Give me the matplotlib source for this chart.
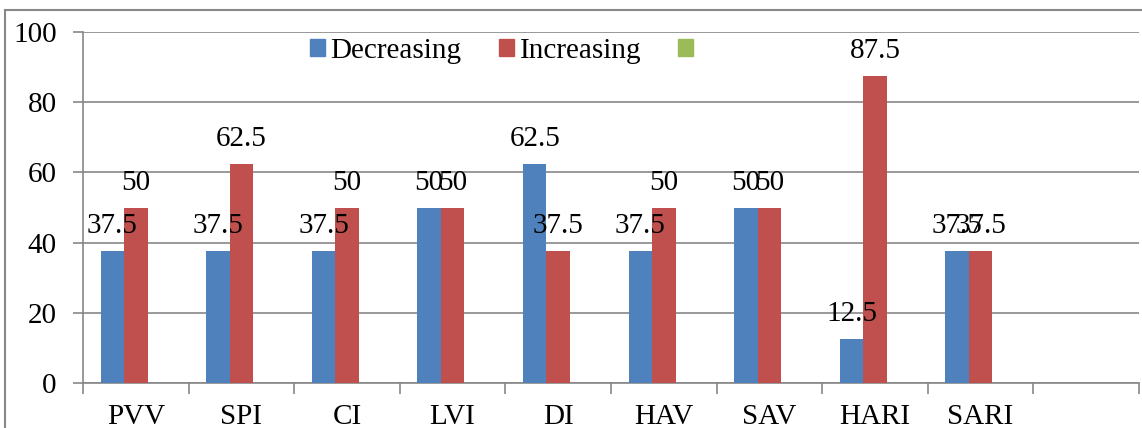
import numpy as np
import matplotlib
matplotlib.use("Agg")
import matplotlib.pyplot as plt
from matplotlib.patches import Rectangle, Patch

# --- data ---
categories = ["PVV", "SPI", "CI", "LVI", "DI", "HAV", "SAV", "HARI", "SARI", ""]
decreasing = [37.5, 37.5, 37.5, 50, 62.5, 37.5, 50, 12.5, 37.5, np.nan]
increasing = [50, 62.5, 50, 50, 37.5, 50, 50, 87.5, 37.5, np.nan]
third = [0, 0, 0, 0, 0, 0, 0, 0, 0, np.nan]
series_names = ["Decreasing", "Increasing", ""]
colors = ["#4F81BD", "#C0504D", "#9BBB59"]
y_ticks = [0, 20, 40, 60, 80, 100]

plt.rcParams["font.family"] = ["Liberation Serif", "DejaVu Serif"]
grid_col = "#878787"
fs = 21

fig = plt.figure(figsize=(11.42, 4.28), dpi=100)
ax = fig.add_axes([83 / 1142, 1 - 383 / 428, 1056 / 1142, 351 / 428])

x = np.arange(len(categories))
w = 0.222
all_series = [decreasing, increasing, third]
for i, (vals, c) in enumerate(zip(all_series, colors)):
    vals = np.array(vals, dtype=float)
    pos = x + (i - 1) * w
    ax.bar(pos, vals, width=w, color=c, zorder=3)
    if i < 2:
        for px, v in zip(pos, vals):
            if np.isnan(v):
                continue
            ax.annotate(f"{v:g}", (px, v), xytext=(0, 18), textcoords="offset points",
                        ha="center", va="center", fontsize=fs, zorder=4)

ax.set_xlim(-0.5, len(categories) - 0.5)
ax.set_ylim(0, 100)
ax.set_yticks(y_ticks)
ax.yaxis.grid(True, color=grid_col, linewidth=1.2, zorder=0)
ax.set_xticks(x)
ax.set_xticklabels(categories)
ax.set_xticks(np.arange(-0.5, len(categories)), minor=True)
ax.tick_params(axis="x", which="major", length=0, pad=15, labelsize=fs)
ax.tick_params(axis="x", which="minor", length=8, color=grid_col, width=1.2)
ax.tick_params(axis="y", length=7, color=grid_col, width=1.2, pad=12, labelsize=fs)
for s in ["top", "right"]:
    ax.spines[s].set_visible(False)
for s in ["left", "bottom"]:
    ax.spines[s].set_color(grid_col)
    ax.spines[s].set_linewidth(1.2)

handles = [Patch(color=c) for c in colors]
ax.legend(handles, series_names, loc="center", bbox_to_anchor=(0.399, 0.945),
          ncol=3, frameon=False, fontsize=fs, handlelength=0.52, handleheight=0.52,
          handletextpad=0.2, columnspacing=1.27, borderpad=0, borderaxespad=0)

# outer chart border
fig.patches.append(Rectangle((5 / 1142, -0.1), 1.2, 1.1 - 10 / 428, transform=fig.transFigure,
                             fill=False, edgecolor=grid_col, linewidth=1.5, clip_on=False))

fig.savefig("out.png", dpi=100)
